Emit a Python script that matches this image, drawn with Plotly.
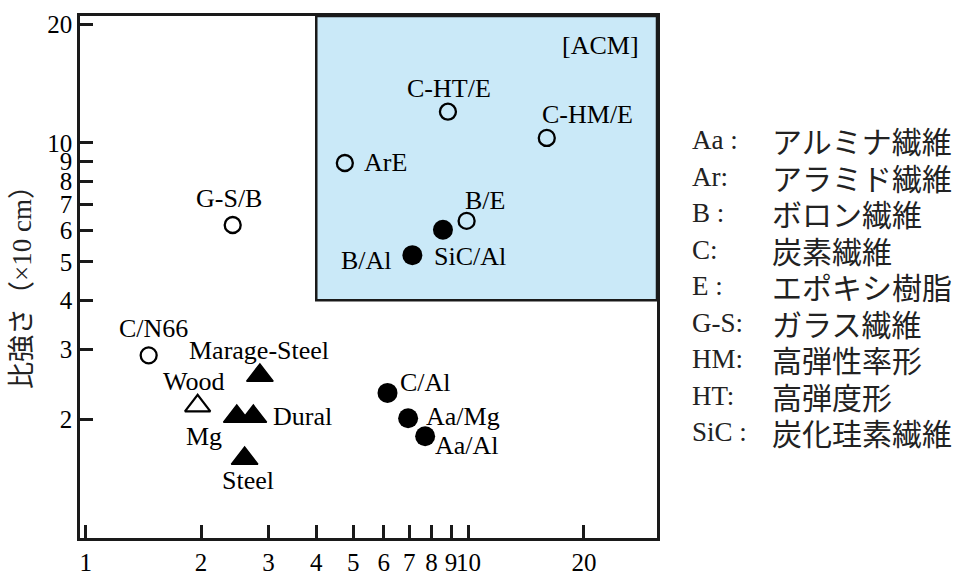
import numpy as np
import plotly.graph_objects as go

# ---- data: specific strength chart (log-log) ----
open_names = ["G-S/B", "C/N66", "C-HT/E", "C-HM/E", "ArE", "B/E"]
open_x = [2.42, 1.46, 8.83, 16.0, 4.75, 9.88]
open_y = [6.2, 2.9, 12.0, 10.3, 8.9, 6.35]

filled_names = ["SiC/Al", "B/Al", "C/Al", "Aa/Mg", "Aa/Al"]
filled_x = [8.57, 7.13, 6.14, 6.95, 7.7]
filled_y = [6.03, 5.2, 2.33, 2.01, 1.81]

metal_names = ["Marage-Steel", "Mg", "Dural", "Steel"]
metal_x = [2.85, 2.48, 2.74, 2.60]
metal_y = [2.58, 2.03, 2.03, 1.59]

wood_names = ["Wood"]
wood_x = [1.96]
wood_y = [2.16]

x_ticks = [1, 2, 3, 4, 5, 6, 7, 8, 9, 10, 20]
y_ticks = [2, 3, 4, 5, 6, 7, 8, 9, 10, 20]

acm_x_min = 4
acm_y_min = 4

legend_abbr = ["Aa :", "Ar:", "B :", "C:", "E :", "G-S:", "HM:", "HT:", "SiC :"]
legend_desc = ["アルミナ繊維", "アラミド繊維", "ボロン繊維", "炭素繊維", "エポキシ樹脂",
               "ガラス繊維", "高弾性率形", "高弾度形", "炭化珪素繊維"]

y_title = "比強さ（×10 cm）"

# ---- layout constants ----
W, H = 963, 573
ML, MR, MT, MB = 80, 306, 16, 35
PW, PH = W - ML - MR, H - MT - MB
X_RANGE = [-0.015, 1.492]
Y_RANGE = [0.0, 1.3215]

SERIF = "Liberation Serif"
CJK = "Noto Sans CJK JP"
LABEL_SIZE = 26

# label placement relative to each mark: (xanchor, dx px, dy px downward)
label_place = {
    "G-S/B": ("center", -4, -27),
    "C/N66": ("center", 5, -27),
    "C-HT/E": ("center", 1, -23),
    "C-HM/E": ("left", -7, -23),
    "ArE": ("left", 17, 0),
    "B/E": ("left", -4, -20),
    "SiC/Al": ("left", -11, 27),
    "B/Al": ("right", -18, 5),
    "C/Al": ("left", 10, -10),
    "Aa/Mg": ("left", 16, -2),
    "Aa/Al": ("left", 8, 9),
    "Marage-Steel": ("center", -1, -25),
    "Mg": ("center", -33, 20),
    "Dural": ("left", 18, 0),
    "Steel": ("center", 3, 22),
    "Wood": ("center", -4, -24),
}

fig = go.Figure()

fig.add_trace(go.Scatter(
    x=open_x, y=open_y, mode="markers", name="open",
    marker=dict(symbol="circle-open", size=16, color="black", line=dict(width=2.3, color="black")),
))
fig.add_trace(go.Scatter(
    x=filled_x, y=filled_y, mode="markers", name="filled",
    marker=dict(symbol="circle", size=20, color="black", line=dict(width=0)),
))
fig.add_trace(go.Scatter(
    x=metal_x, y=metal_y, mode="markers", name="metal",
    marker=dict(symbol="triangle-up", size=23, color="black", line=dict(width=1.5, color="black")),
))
fig.add_trace(go.Scatter(
    x=wood_x, y=wood_y, mode="markers", name="wood",
    marker=dict(symbol="triangle-up-open", size=22, color="black", line=dict(width=2.2, color="black")),
))

# ACM region
fig.add_shape(
    type="rect", xref="x", yref="y",
    x0=acm_x_min, x1=10 ** X_RANGE[1], y0=acm_y_min, y1=10 ** Y_RANGE[1],
    fillcolor="#cae9f8", line=dict(color="#1a1a1a", width=2.5), layer="below",
)

annotations = []
for names, xs, ys in [(open_names, open_x, open_y), (filled_names, filled_x, filled_y),
                      (metal_names, metal_x, metal_y), (wood_names, wood_x, wood_y)]:
    for n, xv, yv in zip(names, xs, ys):
        anchor, dx, dy = label_place[n]
        annotations.append(dict(
            x=np.log10(xv), y=np.log10(yv), xref="x", yref="y", text=n,
            showarrow=False, xanchor=anchor, yanchor="middle",
            xshift=dx, yshift=-dy,
            font=dict(family=SERIF, size=LABEL_SIZE, color="black"),
        ))

annotations.append(dict(
    x=(641 - ML) / PW, y=(MT + PH - 45) / PH, xref="paper", yref="paper",
    text="[ACM]", showarrow=False, xanchor="right", yanchor="middle",
    font=dict(family=SERIF, size=LABEL_SIZE, color="black"),
))

# y-axis title
annotations.append(dict(
    x=(22 - ML) / PW, y=(MT + PH - 281) / PH, xref="paper", yref="paper",
    text=y_title, showarrow=False, textangle=-90, xanchor="center", yanchor="middle",
    font=dict(family=f"{SERIF}, {CJK}", size=27, color="#222"),
))

# abbreviation key
row0, row_step = 140, 36.5
for i, (ab, desc) in enumerate(zip(legend_abbr, legend_desc)):
    ypx = row0 + row_step * i
    yp = (MT + PH - ypx) / PH
    annotations.append(dict(
        x=(690 - ML) / PW, y=yp, xref="paper", yref="paper", text=ab,
        showarrow=False, xanchor="left", yanchor="middle",
        font=dict(family=SERIF, size=27, color="#222"),
    ))
    annotations.append(dict(
        x=(770 - ML) / PW, y=yp, xref="paper", yref="paper", text=desc,
        showarrow=False, xanchor="left", yanchor="middle",
        font=dict(family=CJK, size=30, color="#222"),
    ))

axis_common = dict(
    type="log", showgrid=False, zeroline=False,
    showline=True, mirror=True, linecolor="#1a1a1a", linewidth=2.5,
    ticks="inside", ticklen=13, tickwidth=2.5, tickcolor="#1a1a1a",
    tickfont=dict(family=SERIF, size=25, color="black"),
    tickangle=0,
)

fig.update_layout(
    width=W, height=H,
    margin=dict(l=ML, r=MR, t=MT, b=MB, autoexpand=False),
    paper_bgcolor="white", plot_bgcolor="white",
    showlegend=False,
    xaxis=dict(range=X_RANGE, tickvals=x_ticks, ticktext=[str(v) for v in x_ticks], **axis_common),
    yaxis=dict(range=Y_RANGE, tickvals=y_ticks, ticktext=[str(v) for v in y_ticks], **axis_common),
    annotations=annotations,
)

fig.write_html("out.html")
